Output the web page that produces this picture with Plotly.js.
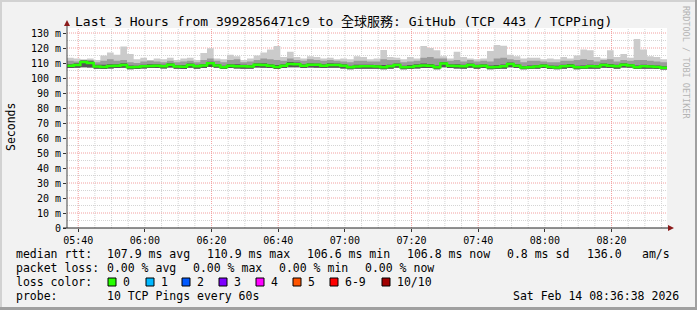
<!DOCTYPE html>
<html><head><meta charset="utf-8">
<script src="https://cdn.plot.ly/plotly-3.0.1.min.js"></script>
<style>html,body{margin:0;padding:0;background:#f2f2f2;} #chart{width:697px;height:310px;}</style>
</head><body><div id="chart"></div>
<script>
// ---- data ----
const startTime = Date.UTC(2026, 1, 14, 5, 36, 38);
const stepMinutes = 2;
const spanMinutes = 180;
const med = [108.2,108.6,110.6,110.0,107.6,107.4,108.0,108.2,108.6,107.2,107.3,107.8,108.0,108.2,107.8,108.8,107.6,107.5,108.6,107.8,108.4,109.8,
108.4,107.2,108.2,107.8,107.8,107.6,108.9,108.6,108.2,107.4,108.2,109.4,109.2,108.2,108.8,108.8,108.2,108.7,108.6,108.2,107.2,107.6,107.8,
107.8,107.6,107.2,107.8,108.6,107.2,107.4,108.0,108.4,108.2,107.2,109.6,108.2,108.0,107.8,108.6,107.8,108.2,107.2,107.4,107.8,109.4,108.2,
107.0,107.2,107.6,108.1,107.3,107.0,107.8,108.2,107.1,107.2,107.8,107.6,108.6,108.2,107.8,108.8,108.4,107.2,107.8,107.6,107.4,106.8];
const lo = [106.6,106.8,107.2,107,106.2,106,106.4,106.6,106.8,105.8,106,106.4,106.6,106.6,106.4,107,106.2,106,106.8,106.2,106.6,107.4,
106.8,106,106.6,106.4,106.2,106.2,107,106.8,106.6,106,106.6,107.2,107.2,106.6,107,106.8,106.6,106.8,106.8,106.4,105.8,106.2,106.2,
106.2,106.2,105.8,106.2,106.8,105.8,106,106.4,106.6,106.6,105.8,107.2,106.6,106.4,106.2,106.8,106.2,106.6,105.8,106,106.2,107.2,106.6,
105.8,106,106.2,106.6,106,105.8,106.2,106.6,105.8,106,106.2,106.2,106.8,106.6,106.2,107,106.8,106,106.2,106.2,106,105.6];
const dk = [109.2,109.8,111.6,111.2,108.8,108.8,109.2,109.2,109.8,108.4,108.2,108.8,109.2,109.2,108.8,109.8,108.6,108.6,109.6,108.8,109.4,110.8,
109.4,108.2,109.2,109.2,108.8,108.6,109.8,109.8,109.2,108.6,109.2,110.6,110.4,109.2,109.8,109.6,109.2,109.8,109.6,109.2,108.2,108.8,108.8,
108.8,108.6,108.6,108.8,109.6,108.2,108.6,109.2,109.6,109.4,108.4,110.6,109.2,109.2,108.8,109.6,108.8,109.2,108.4,108.6,109.0,110.4,109.2,
108.0,108.4,108.6,109.2,108.4,108.2,108.8,109.4,108.2,108.4,108.8,108.6,109.6,109.4,108.8,109.8,109.4,108.4,108.8,108.6,108.4,107.8];
const mh = [111.5,111,112,112,110.5,111.5,112.5,111.5,112,110.5,110,111,111.5,111,110.5,111.5,110.5,111,111.5,110.5,112,113,
111.5,110.5,112,112.5,110.5,111,112,113,112.5,112,111.5,113,112,111.5,112.5,112,111.5,112,111.5,111,110.5,111.5,111.5,
111,111,112.5,112,112,110.5,111,111.5,113.5,114,113,113,111.5,112,111,112,111,111.5,111,113,113.5,112.5,112,
110.5,111.5,111.5,111,110.5,110.5,111.5,111.5,112,112.5,112,111,112,112.5,111,112,111.5,112,112,111.5,111,110.5];
const hi = [113.5,113,112.5,113,112,115,117,115.5,121,116,112.5,113.5,112,113,112.5,113.5,112,113,113.5,112,116.7,119.8,
113,112.5,115.5,114.5,112,113,115,117,119,121.3,114,117.5,114,113,114.5,114,113,113.5,112.5,113,112.5,114.5,114,
112.5,113,118.7,114,113.5,112.5,114,113,121.3,120,118.5,114.5,113,117.5,114,113,112.5,113,118,122,121.5,115.5,114.5,
113,113.5,113.5,112.5,113,112.5,114,113,115,119,118.5,114,113,118.5,114,116,113.5,126,119,114.5,114,112.5];

const yTickValues = [0,10,20,30,40,50,60,70,80,90,100,110,120,130];
const yTickLabels = ['0','10 m','20 m','30 m','40 m','50 m','60 m','70 m','80 m','90 m','100 m','110 m','120 m','130 m'];
const majorGridTimes = ['05:40','06:20','06:40','07:20','07:40','08:20'];
const titleText = 'Last 3 Hours from 3992856471c9 to 全球服務: GitHub (TCP 443 / TCPPing)';
const statLine1 = [['median rtt:',16],['107.9 ms avg',107],['110.9 ms max',207],['106.6 ms min',307],['106.8 ms now',407],['0.8 ms sd',507],['136.0',587],['am/s',642]];
const statLine2 = [['packet loss:',16],['0.00 % avg',107],['0.00 % max',193],['0.00 % min',279],['0.00 % now',365]];
const lossLabels = ['0','1','2','3','4','5','6-9','10/10'];
const lossColors = ['#26ff00','#00b8ff','#0059ff','#7e00ff','#ff00ff','#ff5500','#ff0000','#a10000'];
const lossBoxX = [108,146,182,219,256,293,330,382];
const probeText = '10 TCP Pings every 60s';
const dateText = 'Sat Feb 14 08:36:38 2026';

// ---- helpers ----
const L = 67, T = 28, W = 600, H = 200;
const px = p => (p - L) / W;
const py = p => (T + H - p) / H;
function fmt(ms) {
  const d = new Date(ms);
  const z = n => String(n).padStart(2, '0');
  return d.getUTCFullYear() + '-' + z(d.getUTCMonth() + 1) + '-' + z(d.getUTCDate()) + ' ' +
    z(d.getUTCHours()) + ':' + z(d.getUTCMinutes()) + ':' + z(d.getUTCSeconds());
}
const stepMs = stepMinutes * 60000;
const xs = med.map((_, i) => fmt(startTime + i * stepMs));
xs.push(fmt(startTime + med.length * stepMs));
const ext = a => a.concat([a[a.length - 1]]);

const mono = 'DejaVu Sans Mono, Noto Sans CJK TC, monospace';

function band(lower, upper, color) {
  return [
    {x: xs, y: ext(lower), type: 'scatter', mode: 'lines', line: {width: 0, shape: 'hv'}, hoverinfo: 'skip', showlegend: false},
    {x: xs, y: ext(upper), type: 'scatter', mode: 'lines', line: {width: 0, shape: 'hv'}, fill: 'tonexty', fillcolor: color, hoverinfo: 'skip', showlegend: false}
  ];
}

const traces = [].concat(
  band(lo, hi, '#cbcbcb'),
  band(lo, mh, '#9a9a9a'),
  band(lo, dk, '#555555'),
  [{x: xs, y: ext(med), type: 'scatter', mode: 'lines', line: {width: 2.5, color: '#26ff00', shape: 'hv'}, hoverinfo: 'skip', showlegend: false}]
);

// ---- grid / decoration shapes ----
const shapes = [];
const endTime = startTime + spanMinutes * 60000;
const firstGrid = Date.UTC(2026, 1, 14, 5, 40, 0);
for (let t = firstGrid; t < endTime; t += 5 * 60000) {
  const hhmm = fmt(t).slice(11, 16);
  const major = majorGridTimes.includes(hhmm);
  shapes.push({type: 'line', xref: 'x', yref: 'paper', x0: fmt(t), x1: fmt(t), y0: 0, y1: 1, layer: 'below',
    line: {color: major ? '#f2a0a0' : '#d4d4d4', width: 1, dash: '1px,1px'}});
}
for (let v = 5; v <= 130; v += 5) {
  const major = v % 10 === 0;
  shapes.push({type: 'line', xref: 'paper', yref: 'y', x0: 0, x1: 1, y0: v, y1: v, layer: 'below',
    line: {color: major ? '#f2a0a0' : '#d4d4d4', width: 1, dash: '1px,1px'}});
}
// axis lines and arrows
shapes.push({type: 'line', xref: 'paper', yref: 'paper', x0: px(67), x1: px(67), y0: py(228), y1: py(23), line: {color: '#444', width: 1}});
shapes.push({type: 'line', xref: 'paper', yref: 'paper', x0: px(63), x1: px(669), y0: py(228), y1: py(228), line: {color: '#222', width: 1}});
shapes.push({type: 'path', xref: 'paper', yref: 'paper',
  path: `M ${px(64)} ${py(26)} L ${px(70)} ${py(26)} L ${px(67)} ${py(20)} Z`, fillcolor: '#8b1a1a', line: {width: 0}});
shapes.push({type: 'path', xref: 'paper', yref: 'paper',
  path: `M ${px(668)} ${py(225)} L ${px(668)} ${py(231)} L ${px(674)} ${py(228)} Z`, fillcolor: '#8b1a1a', line: {width: 0}});
// outer frame
shapes.push({type: 'rect', xref: 'paper', yref: 'paper', x0: px(0), x1: px(697), y0: py(0), y1: py(2), fillcolor: '#d2d2d2', line: {width: 0}});
shapes.push({type: 'rect', xref: 'paper', yref: 'paper', x0: px(0), x1: px(2), y0: py(0), y1: py(310), fillcolor: '#d2d2d2', line: {width: 0}});
shapes.push({type: 'rect', xref: 'paper', yref: 'paper', x0: px(695), x1: px(697), y0: py(0), y1: py(310), fillcolor: '#a0a0a0', line: {width: 0}});
shapes.push({type: 'rect', xref: 'paper', yref: 'paper', x0: px(0), x1: px(697), y0: py(307), y1: py(310), fillcolor: '#a0a0a0', line: {width: 0}});
// loss colour boxes
lossColors.forEach((c, i) => {
  shapes.push({type: 'rect', xref: 'paper', yref: 'paper', x0: px(lossBoxX[i]), x1: px(lossBoxX[i] + 8), y0: py(278), y1: py(286),
    fillcolor: c, line: {color: '#000', width: 1}});
});

// ---- annotations ----
const ann = [];
const dx = -2; // annotation inner padding compensation
const txt = (s, x, y, size, extra) => Object.assign({text: s, xref: 'paper', yref: 'paper', x: px(x + dx), y: py(y), xanchor: 'left', yanchor: 'middle',
  showarrow: false, font: {family: mono, size: size, color: '#000'}}, extra || {});
ann.push(txt(titleText, 75, 22, 13));
ann.push(txt('Seconds', 13, 127, 11.5, {xanchor: 'center', textangle: -90}));
ann.push(txt('RRDTOOL / TOBI OETIKER', 688, 62, 8.5, {xanchor: 'center', textangle: 90, font: {family: mono, size: 8.5, color: '#b4b4b4'}}));
statLine1.forEach(([s, x]) => ann.push(txt(s, x, 254, 11.5)));
statLine2.forEach(([s, x]) => ann.push(txt(s, x, 268, 11.5)));
ann.push(txt('loss color:', 16, 282, 11.5));
lossLabels.forEach((s, i) => ann.push(txt(s, lossBoxX[i] + 15, 282, 11.5)));
ann.push(txt('probe:', 16, 296, 11.5));
ann.push(txt(probeText, 107, 296, 11.5));
ann.push(txt(dateText, 513, 296, 11.5));

const layout = {
  width: 697, height: 310,
  margin: {l: L, r: 697 - L - W, t: T, b: 310 - T - H, pad: 0},
  paper_bgcolor: '#f2f2f2', plot_bgcolor: '#ffffff',
  showlegend: false, hovermode: false,
  xaxis: {type: 'date', range: [fmt(startTime), fmt(endTime)], tick0: fmt(firstGrid), dtick: 20 * 60000, tickformat: '%H:%M',
    showgrid: false, zeroline: false, showline: false, ticks: 'outside', ticklen: 3, tickcolor: '#333',
    tickfont: {family: mono, size: 10, color: '#000'}, fixedrange: true},
  yaxis: {range: [0, 133.33], tickmode: 'array', tickvals: yTickValues, ticktext: yTickLabels,
    showgrid: false, zeroline: false, showline: false, ticks: 'outside', ticklen: 3, tickcolor: '#333',
    tickfont: {family: mono, size: 10, color: '#000'}, fixedrange: true},
  shapes: shapes,
  annotations: ann
};
Plotly.newPlot('chart', traces, layout, {displayModeBar: false, staticPlot: true});
</script>
</body></html>
